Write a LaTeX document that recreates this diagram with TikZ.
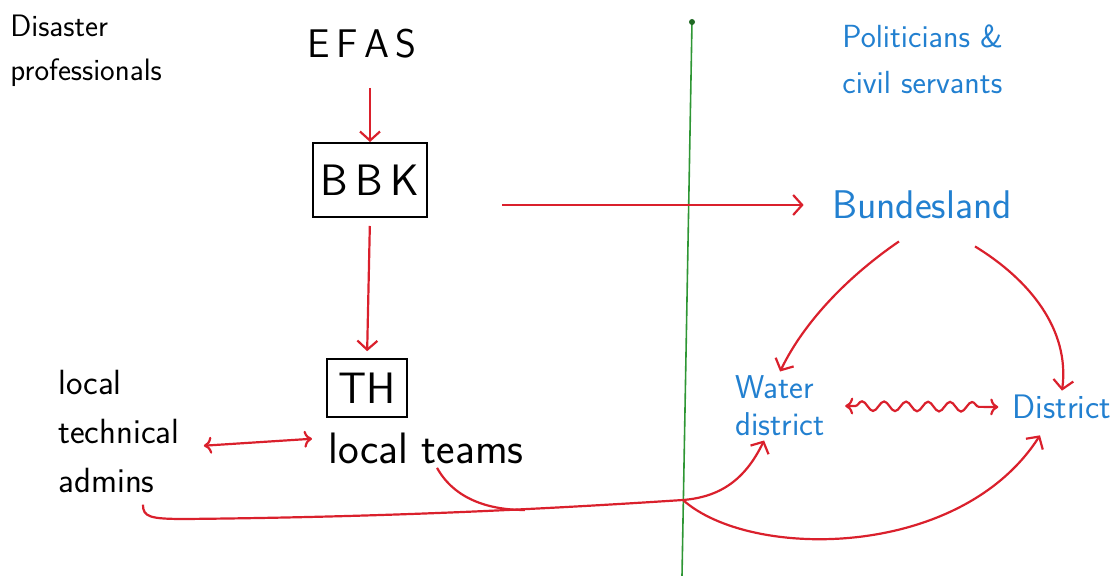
\documentclass[tikz,border=0pt]{standalone}
\usepackage{xcolor}
\usepackage{tikz}
\usetikzlibrary{
	arrows.meta,
	calc,
	decorations.pathmorphing
}
\definecolor{PenRed}{RGB}{218,32,44}
\definecolor{PenBlue}{RGB}{34,128,208}
\definecolor{PenGreen}{RGB}{46,150,52}

\begin{document}
\begin{tikzpicture}[x=0.5pt, y=-0.5pt, font=\sffamily, inner sep=2pt,
		link/.style={PenRed, line width=1.1pt, -{Straight Barb[length=4.5pt,width=10pt]}},
		boxed/.style={draw, line width=1pt}]
			\useasboundingbox (0,0) rectangle (1115,576);
			% Trennlinie
			\draw[PenGreen, line width=0.8pt] (692,22) -- (682,576);
			\fill[PenGreen!70!black] (692,22) circle (1.5pt);
			\coordinate (J) at (683,500);
			% linke Seite
			\node[anchor=west, align=left, font=\sffamily\fontsize{15.5}{22}\selectfont] (prof) at (6,51) {Disaster\\professionals};
			\node[font=\sffamily\fontsize{20}{24}\selectfont] (efas) at (362,44) {E\,F\,A\,S};
			\node[boxed, minimum width=57pt, minimum height=37pt, font=\sffamily\fontsize{22}{26}\selectfont] (bbk) at (370,180) {B\,B\,K};
			\node[boxed, line width=0.8pt, minimum width=40pt, minimum height=29pt, font=\sffamily\fontsize{22}{26}\selectfont] (th) at (367,388) {TH};
			\node[font=\sffamily\fontsize{22}{26}\selectfont] (teams) at (426,448) {local teams};
			\node[anchor=west, align=left, font=\sffamily\fontsize{17.5}{24.5}\selectfont] (admins) at (54,431) {local\\technical\\admins};
			% rechte Seite
			\node[anchor=west, align=left, PenBlue, font=\sffamily\fontsize{16}{23}\selectfont] (pol) at (838,59) {Politicians \&\\civil servants};
			\node[PenBlue, font=\sffamily\fontsize{20}{24}\selectfont] (bund) at (922,205) {Bundesland};
			\node[anchor=west, align=left, PenBlue, font=\sffamily\fontsize{16.5}{18.5}\selectfont] (water) at (731,406) {Water\\district};
			\node[PenBlue, font=\sffamily\fontsize{17}{21}\selectfont] (district) at (1062,407) {District};
			% Pfeile
			\draw[link, shorten <=12.5pt] (bbk.north |- efas.south) -- (bbk.north);
			\draw[link, shorten <=4pt, shorten >=3.5pt] (bbk.south) -- (th.north);
			\draw[link, shorten <=37pt, shorten >=12pt] (bbk.east |- bund.west) -- (bund.west);
			\draw[link, <->, shorten <=10pt, shorten >=6pt] ([yshift=-8pt]admins.east) -- ([yshift=5pt]teams.west);
			\draw[link] ([shift={(-11.5pt,-9pt)}]bund.south) .. controls (850,275) and (805,320) .. (water.north);
			\draw[link] ([shift={(26.5pt,-11.5pt)}]bund.south) .. controls (1030,280) and (1070,330) .. (district.north);
			\draw[link, <->, decorate, decoration={snake, amplitude=2.4pt, segment length=11pt, pre length=5pt, post length=7pt}]
				([xshift=8pt]water.east) -- ([xshift=-5pt]district.west);
			% untere Verbindungen
			\draw[PenRed, line width=1.1pt] ([shift={(12pt,-4pt)}]admins.south) .. controls (143,517) and (150,519) .. (185,519)
				.. controls (400,517) and (560,508) .. (J);
			\draw[PenRed, line width=1.1pt] ([xshift=5.5pt]teams.south) .. controls (455,500) and (490,510) .. (525,510);
			\draw[link] (J) .. controls (720,497) and (745,480) .. ([xshift=-8pt]water.south);
			\draw[link] (J) .. controls (750,560) and (960,560) .. ([shift={(-11pt,-6pt)}]district.south);
		\end{tikzpicture}
\end{document}
